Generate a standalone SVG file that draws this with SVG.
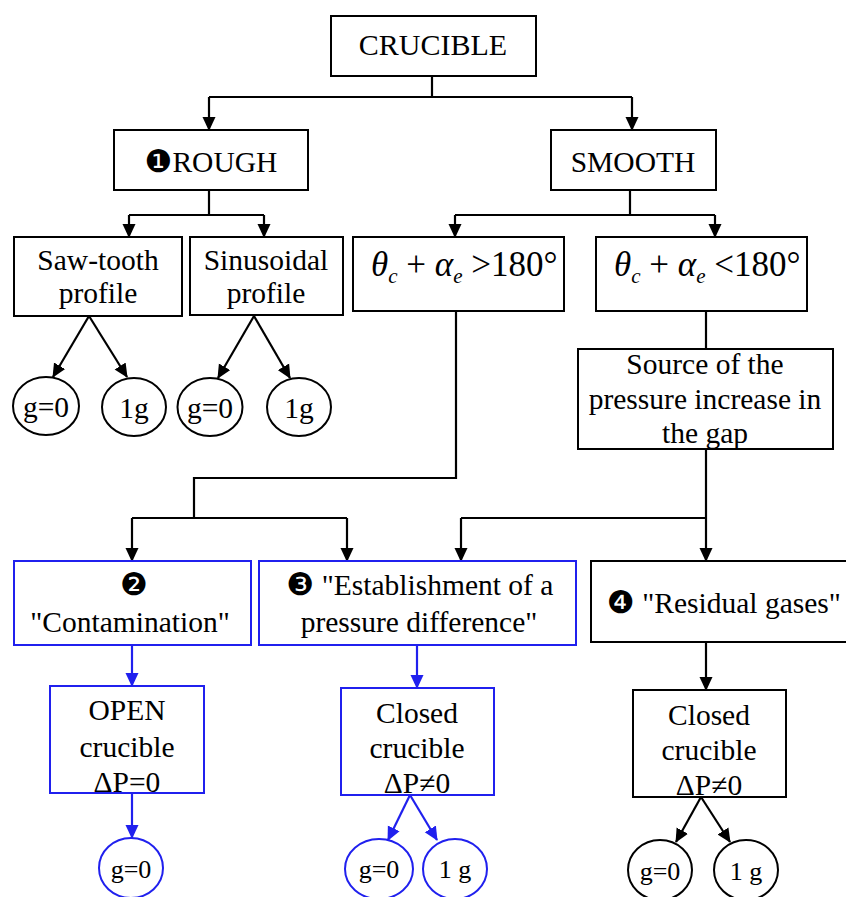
<svg xmlns="http://www.w3.org/2000/svg" width="846" height="897" viewBox="0 0 846 897">
<defs>
<marker id="ah" markerUnits="userSpaceOnUse" markerWidth="14" markerHeight="14" viewBox="0 0 14 14" refX="13" refY="7" orient="auto"><path d="M0,0.5 L14,7 L0,13.5 Z" fill="#000"/></marker>
<marker id="ahb" markerUnits="userSpaceOnUse" markerWidth="14" markerHeight="14" viewBox="0 0 14 14" refX="13" refY="7" orient="auto"><path d="M0,0.5 L14,7 L0,13.5 Z" fill="#2020ee"/></marker>
</defs>
<style>
text{font-family:"Liberation Serif","Times New Roman",serif;font-size:29.5px;fill:#000;text-anchor:middle}
.box{fill:#fff;stroke:#000;stroke-width:2}
.bbox{fill:#fff;stroke:#2020ee;stroke-width:2}
.c{fill:#fff;stroke:#000;stroke-width:2}
.bc{fill:#fff;stroke:#2020ee;stroke-width:2}
.ln{fill:none;stroke:#000;stroke-width:2.2}
.arr{fill:none;stroke:#000;stroke-width:2.2;marker-end:url(#ah)}
.barr{fill:none;stroke:#2020ee;stroke-width:2.2;marker-end:url(#ahb)}
.dg{font-family:"DejaVu Sans",sans-serif;font-size:31px}
.sm{font-size:26px}
.m{font-size:35px;text-anchor:start}
.i{font-style:italic}
.sub{font-size:21px;font-style:italic}
</style>
<g id="connectors">
<path class="ln" d="M432,76 V97 M209,97 H632"/>
<path class="arr" d="M209,97 V130"/>
<path class="arr" d="M632,97 V130"/>
<path class="ln" d="M209,190 V215 M129,215 H264"/>
<path class="arr" d="M129,215 V237"/>
<path class="arr" d="M264,215 V237"/>
<path class="ln" d="M630,190 V215 M455,215 H715"/>
<path class="arr" d="M455,215 V237"/>
<path class="arr" d="M715,215 V237"/>
<path class="arr" d="M89,316 L53,377"/>
<path class="arr" d="M89,316 L127,377"/>
<path class="arr" d="M254,316 L218,378"/>
<path class="arr" d="M254,316 L290,378"/>
<path class="ln" d="M456,311 V478 H194 V518 M132,518 H347"/>
<path class="arr" d="M132,518 V561"/>
<path class="arr" d="M347,518 V561"/>
<path class="ln" d="M706,311 V349"/>
<path class="arr" d="M706,449 V561"/>
<path class="ln" d="M461,518 H706"/>
<path class="arr" d="M461,518 V561"/>
<path class="barr" d="M132,645 V686"/>
<path class="barr" d="M132,793 V838"/>
<path class="barr" d="M417,645 V688"/>
<path class="barr" d="M410,795 L388,840"/>
<path class="barr" d="M410,795 L437,840"/>
<path class="arr" d="M706,642 V690"/>
<path class="arr" d="M701,797 L676,842"/>
<path class="arr" d="M701,797 L730,842"/>
</g>
<g id="crucible"><rect class="box" x="331" y="16" width="205" height="60"/><text x="433" y="55" style="font-size:30px">CRUCIBLE</text></g>
<g id="rough"><rect class="box" x="114" y="130" width="194" height="60"/><text x="211" y="172"><tspan class="dg">❶</tspan>ROUGH</text></g>
<g id="smooth"><rect class="box" x="551" y="130" width="165" height="60"/><text x="633" y="172">SMOOTH</text></g>
<g id="sawtooth"><rect class="box" x="14" y="237" width="168" height="79"/><text x="98" y="270">Saw-tooth</text><text x="98" y="303">profile</text></g>
<g id="sinusoidal"><rect class="box" x="190" y="237" width="153" height="78"/><text x="266" y="270">Sinusoidal</text><text x="266" y="303">profile</text></g>
<g id="saw-g0"><ellipse class="c" cx="46" cy="406" rx="33" ry="29"/><text x="46" y="417">g=0</text></g>
<g id="saw-1g"><ellipse class="c" cx="134" cy="407" rx="32" ry="29"/><text x="134" y="418">1g</text></g>
<g id="sin-g0"><ellipse class="c" cx="210" cy="407" rx="32.5" ry="29"/><text x="210" y="418">g=0</text></g>
<g id="sin-1g"><ellipse class="c" cx="299" cy="407" rx="32" ry="29"/><text x="299" y="418">1g</text></g>
<g id="theta-gt"><rect class="box" x="353" y="237" width="211" height="74"/><text class="m" x="371" y="276"><tspan class="i">θ</tspan><tspan class="sub" dy="7">c</tspan><tspan dy="-7"> + </tspan><tspan class="i">α</tspan><tspan class="sub" dy="7">e</tspan><tspan dy="-7"> &gt;180°</tspan></text></g>
<g id="theta-lt"><rect class="box" x="596" y="237" width="211" height="74"/><text class="m" x="614" y="276"><tspan class="i">θ</tspan><tspan class="sub" dy="7">c</tspan><tspan dy="-7"> + </tspan><tspan class="i">α</tspan><tspan class="sub" dy="7">e</tspan><tspan dy="-7"> &lt;180°</tspan></text></g>
<g id="source"><rect class="box" x="578" y="349" width="255" height="100"/><text x="705" y="374">Source of the</text><text x="705" y="409">pressure increase in</text><text x="705" y="443">the gap</text></g>
<g id="contamination"><rect class="bbox" x="14" y="561" width="237" height="84"/><text x="134" y="595" class="dg">❷</text><text x="130" y="632">"Contamination"</text></g>
<g id="establishment"><rect class="bbox" x="259" y="561" width="317" height="84"/><text x="420" y="595"><tspan class="dg">❸</tspan> "Establishment of a</text><text x="419" y="632">pressure difference"</text></g>
<g id="residual"><rect class="box" x="591" y="561" width="260" height="81"/><text x="724" y="613"><tspan class="dg">❹</tspan> "Residual gases"</text></g>
<g id="open"><rect class="bbox" x="50" y="686" width="154" height="107"/><text x="127" y="720">OPEN</text><text x="127" y="757">crucible</text><text x="127" y="792">ΔP=0</text></g>
<g id="closed-blue"><rect class="bbox" x="341" y="688" width="153" height="107"/><text x="417" y="723">Closed</text><text x="417" y="758">crucible</text><text x="417" y="793">ΔP≠0</text></g>
<g id="closed-black"><rect class="box" x="633" y="690" width="153" height="107"/><text x="709" y="725">Closed</text><text x="709" y="760">crucible</text><text x="709" y="795">ΔP≠0</text></g>
<g id="open-g0"><ellipse class="bc" cx="131" cy="868" rx="32" ry="30"/><text class="sm" x="131" y="878">g=0</text></g>
<g id="cb-g0"><ellipse class="bc" cx="379" cy="869" rx="34" ry="30"/><text class="sm" x="379" y="878">g=0</text></g>
<g id="cb-1g"><ellipse class="bc" cx="455" cy="869" rx="32" ry="30"/><text class="sm" x="455" y="878">1 g</text></g>
<g id="ck-g0"><ellipse class="c" cx="660" cy="870" rx="32" ry="30"/><text class="sm" x="660" y="880">g=0</text></g>
<g id="ck-1g"><ellipse class="c" cx="746" cy="870" rx="32" ry="30"/><text class="sm" x="746" y="880">1 g</text></g>
</svg>
